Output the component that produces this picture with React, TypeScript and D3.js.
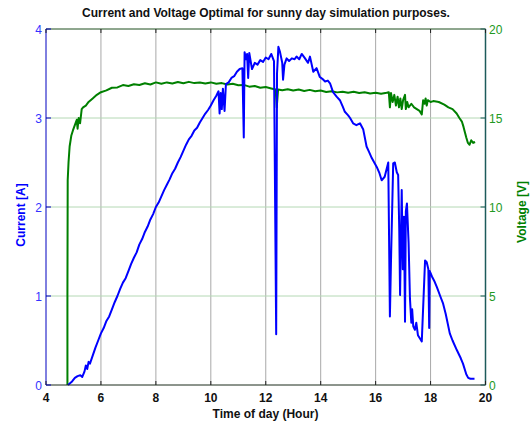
import React from "react";
import * as d3 from "d3";

const title = "Current and Voltage Optimal for sunny day simulation purposes.";
const xLabel = "Time of day (Hour)";
const yLeftLabel = "Current [A]";
const yRightLabel = "Voltage [V]";
const xTicks = [4, 6, 8, 10, 12, 14, 16, 18, 20];
const yLeftTicks = [0, 1, 2, 3, 4];
const yRightTicks = [0, 5, 10, 15, 20];

// Current [A] vs hour
const currentHours = [
  4.8, 4.95, 5.05, 5.15, 5.25, 5.32, 5.4, 5.45, 5.5, 5.55, 5.6, 5.7, 5.8, 5.9, 6.0,
  6.1, 6.2, 6.3, 6.4, 6.5, 6.6, 6.7, 6.8, 6.9, 7.0, 7.1, 7.2, 7.3, 7.4, 7.5, 7.6, 7.7,
  7.8, 7.9, 8.0, 8.1, 8.2, 8.3, 8.4, 8.5, 8.6, 8.7, 8.8, 8.9, 9.0, 9.1, 9.2, 9.3,
  9.4, 9.5, 9.6, 9.7, 9.8, 9.9, 10.0, 10.1, 10.2, 10.28, 10.32, 10.36, 10.4, 10.44, 10.5, 10.55,
  10.65, 10.75, 10.85, 10.95, 11.05, 11.15, 11.2, 11.23, 11.28, 11.32, 11.36, 11.4,
  11.5, 11.6, 11.7, 11.8, 11.9, 12.0, 12.1, 12.2, 12.3, 12.38, 12.41, 12.46, 12.52,
  12.6, 12.63, 12.68, 12.76, 12.85, 12.95, 13.05, 13.12, 13.22, 13.31, 13.43, 13.54,
  13.61, 13.73, 13.85, 13.97, 14.06, 14.16, 14.26, 14.34, 14.45, 14.58, 14.7, 14.8,
  14.88, 15.0, 15.07, 15.18, 15.3, 15.43, 15.55, 15.67, 15.76, 15.86, 15.95, 16.04,
  16.14, 16.22, 16.33, 16.46, 16.52, 16.56, 16.64, 16.7, 16.77, 16.82, 16.86, 16.89,
  16.95, 16.99, 17.03, 17.07, 17.1, 17.14, 17.2, 17.25, 17.3, 17.33, 17.37, 17.43,
  17.48, 17.54, 17.62, 17.68, 17.8, 17.86, 17.92, 17.95, 17.97, 18.05, 18.15, 18.23,
  18.35, 18.45, 18.55, 18.7, 18.8, 18.96, 19.1, 19.18, 19.3, 19.37, 19.45, 19.6,
];
const currentValues = [
  0, 0.04, 0.08, 0.1, 0.11, 0.09, 0.15, 0.22, 0.18, 0.26, 0.24, 0.33, 0.42, 0.5, 0.58,
  0.64, 0.72, 0.77, 0.85, 0.93, 1.0, 1.08, 1.15, 1.2, 1.28, 1.36, 1.43, 1.49, 1.58, 1.64, 1.72, 1.78,
  1.86, 1.92, 2.0, 2.05, 2.12, 2.19, 2.25, 2.31, 2.38, 2.43, 2.5, 2.56, 2.63, 2.7, 2.76, 2.8,
  2.86, 2.89, 2.95, 3.0, 3.05, 3.09, 3.14, 3.2, 3.25, 3.3, 3.05, 3.28, 3.1, 3.33, 3.08, 3.38,
  3.4, 3.45, 3.47, 3.52, 3.55, 3.56, 2.78, 3.74, 3.66, 3.72, 3.45, 3.73,
  3.55, 3.62, 3.6, 3.65, 3.63, 3.68, 3.66, 3.72, 3.64, 0.57, 3.5, 3.8, 3.74,
  3.62, 3.43, 3.6, 3.67, 3.64, 3.67, 3.66, 3.69, 3.66, 3.72, 3.67, 3.62,
  3.69, 3.52, 3.56, 3.46, 3.44, 3.41, 3.42, 3.39, 3.29, 3.24, 3.2, 3.13,
  3.07, 3.03, 3.0, 2.94, 2.92, 2.94, 2.87, 2.68, 2.62, 2.55, 2.5, 2.45,
  2.38, 2.3, 2.34, 2.5, 0.77, 1.4, 2.49, 2.5, 2.39, 2.36, 1.75, 1.01,
  2.19, 1.3, 1.89, 0.71, 1.95, 2.04, 1.6, 0.97, 0.7, 0.85, 0.66, 0.62,
  0.7, 0.56, 0.52, 0.49, 1.4, 1.38, 1.3, 0.64, 1.28, 1.22, 1.16, 1.1,
  1.0, 0.92, 0.8, 0.58, 0.5, 0.39, 0.3, 0.24, 0.12, 0.08, 0.07, 0.07,
];

// Voltage [V] vs hour
const voltageHours = [
  4.78, 4.78, 4.79, 4.82, 4.86, 4.92, 4.98, 5.05, 5.12, 5.15, 5.19, 5.24, 5.3, 5.35,
  5.45, 5.55, 5.7, 5.85, 6.0, 6.2, 6.4, 6.6, 6.8, 7.0, 7.2, 7.4, 7.6, 7.8, 8.0, 8.2,
  8.4, 8.6, 8.8, 9.0, 9.2, 9.4, 9.6, 9.8, 10.0, 10.2, 10.4, 10.6, 10.8, 11.0, 11.2,
  11.4, 11.6, 11.8, 12.0, 12.2, 12.36, 12.4, 12.45, 12.6, 12.8, 13.0, 13.2, 13.4,
  13.6, 13.8, 14.0, 14.2, 14.4, 14.6, 14.8, 15.0, 15.2, 15.4, 15.6, 15.8, 16.0, 16.2,
  16.4, 16.48, 16.52, 16.56, 16.62, 16.68, 16.74, 16.8, 16.85, 16.9, 16.95, 17.0, 17.07,
  17.1, 17.15, 17.2, 17.3, 17.4, 17.5, 17.6, 17.68, 17.73, 17.78, 17.82, 17.86, 17.9,
  18.0, 18.1, 18.3, 18.5, 18.65, 18.8, 18.95, 19.05, 19.14, 19.2, 19.25, 19.3, 19.36,
  19.42, 19.48, 19.55, 19.62,
];
const voltageValues = [
  0, 5, 11.5, 12.5, 13.4, 14.0, 14.3, 14.6, 14.9, 14.4, 15.0, 14.7, 15.5, 15.6,
  15.7, 15.9, 16.1, 16.3, 16.45, 16.55, 16.7, 16.72, 16.85, 16.8, 16.9, 16.85, 16.95, 16.88, 17.0, 16.92,
  17.0, 16.94, 17.02, 16.95, 17.03, 16.96, 17.0, 16.94, 17.0, 16.92, 16.96, 16.88, 16.92, 16.84, 16.86,
  16.76, 16.8, 16.7, 16.74, 16.66, 16.6, 15.6, 16.6, 16.56, 16.62, 16.54, 16.6, 16.52,
  16.58, 16.5, 16.54, 16.46, 16.5, 16.44, 16.48, 16.42, 16.47, 16.4, 16.45, 16.38, 16.42, 16.36,
  16.42, 16.45, 15.6, 16.4, 15.9, 16.3, 15.7, 16.2, 15.6, 16.1, 15.5, 16.0, 16.3,
  15.5, 15.9, 15.6, 15.8, 15.6, 15.5, 15.4, 15.2, 16.0, 15.8, 16.1, 15.7, 16.0,
  15.9, 15.95, 15.9, 15.75, 15.6, 15.5, 15.25, 15.0, 14.8, 14.5, 14.2, 13.9, 13.6,
  13.5, 13.75, 13.6, 13.65,
];

const W = 531;
const H = 425;
const left = 46;
const right = 485.5;
const top = 29;
const bottom = 385;

export default function App() {
  const x = d3.scaleLinear().domain([4, 20]).range([left, right]);
  const yL = d3.scaleLinear().domain([0, 4]).range([bottom, top]);
  const yR = d3.scaleLinear().domain([0, 20]).range([bottom, top]);

  const cur = currentHours.map((h, i) => [h, currentValues[i]] as [number, number]);
  const volt = voltageHours.map((h, i) => [h, voltageValues[i]] as [number, number]);

  const curLine = d3
    .line<[number, number]>()
    .x((d) => x(d[0]))
    .y((d) => yL(d[1]))(cur) as string;
  const voltLine = d3
    .line<[number, number]>()
    .x((d) => x(d[0]))
    .y((d) => yR(d[1]))(volt) as string;

  const font = "Liberation Sans, Arial, Helvetica, sans-serif";
  const blue = "#0000ff";
  const green = "#008000";

  return (
    <svg
      width={W}
      height={H}
      style={{ position: "absolute", left: 0, top: 0, background: "#fff" }}
      fontFamily={font}
    >
      <rect x={0} y={0} width={W} height={H} fill="#fff" />
      {/* grid */}
      {xTicks.slice(1, -1).map((t) => (
        <line key={"gx" + t} x1={x(t)} x2={x(t)} y1={top} y2={bottom} stroke="#a8a8a8" strokeWidth={1} />
      ))}
      {yRightTicks.slice(1, -1).map((t) => (
        <line key={"gy" + t} x1={left} x2={right} y1={yR(t)} y2={yR(t)} stroke="#b4d8b4" strokeWidth={1} />
      ))}
      {/* data */}
      <path d={voltLine} fill="none" stroke={green} strokeWidth={2} strokeLinejoin="round" />
      <path d={curLine} fill="none" stroke={blue} strokeWidth={2} strokeLinejoin="round" />
      {/* frame */}
      <line x1={left} x2={right} y1={top} y2={top} stroke="#1f4f1f" strokeWidth={1} />
      <line x1={left} x2={right} y1={bottom} y2={bottom} stroke="#1a2a1a" strokeWidth={1} />
      <line x1={left} x2={left} y1={top} y2={bottom} stroke="#0000c0" strokeWidth={1} />
      <line x1={right} x2={right} y1={top} y2={bottom} stroke="#1d5b5b" strokeWidth={1.5} />
      {/* x ticks */}
      {xTicks.map((t) => (
        <g key={"xt" + t}>
          <line x1={x(t)} x2={x(t)} y1={bottom} y2={bottom - 4} stroke="#202020" />
          <line x1={x(t)} x2={x(t)} y1={top} y2={top + 4} stroke="#202020" />
          <text x={x(t)} y={402} textAnchor="middle" fontSize={12} fontWeight="bold" fill="#111">
            {t}
          </text>
        </g>
      ))}
      {/* left ticks */}
      {yLeftTicks.map((t) => (
        <g key={"yl" + t}>
          <line x1={left} x2={left + 5} y1={yL(t)} y2={yL(t)} stroke="#0000c0" />
          <text x={42} y={yL(t) + 4.5} textAnchor="end" fontSize={12} fill="#3333ff">
            {t}
          </text>
        </g>
      ))}
      {/* right ticks */}
      {yRightTicks.map((t) => (
        <g key={"yr" + t}>
          <line x1={right} x2={right - 5} y1={yR(t)} y2={yR(t)} stroke="#1d5b5b" />
          <text x={489} y={yR(t) + 4.5} textAnchor="start" fontSize={12} fill="#229922">
            {t}
          </text>
        </g>
      ))}
      {/* labels */}
      <text x={266} y={17} textAnchor="middle" fontSize={12} fontWeight="bold" fill="#111">
        {title}
      </text>
      <text x={265.5} y={418} textAnchor="middle" fontSize={12} fontWeight="bold" fill="#111">
        {xLabel}
      </text>
      <text
        transform={`translate(25,215) rotate(-90)`}
        textAnchor="middle"
        fontSize={12}
        fontWeight="bold"
        fill={blue}
      >
        {yLeftLabel}
      </text>
      <text
        transform={`translate(526,212) rotate(-90)`}
        textAnchor="middle"
        fontSize={12}
        fontWeight="bold"
        fill={green}
      >
        {yRightLabel}
      </text>
    </svg>
  );
}
